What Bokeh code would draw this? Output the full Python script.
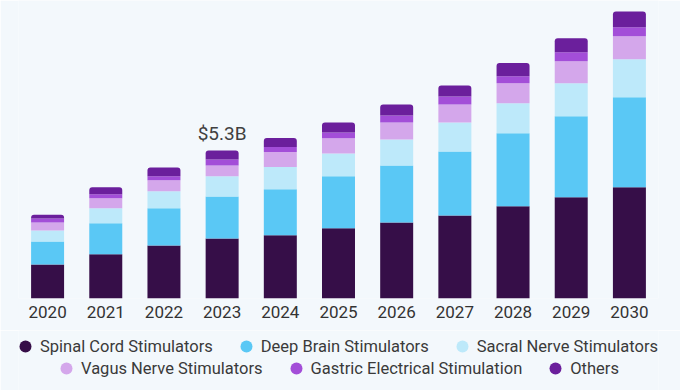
from bokeh.plotting import figure
from bokeh.layouts import column
from bokeh.models import FactorRange, Range1d, Legend, LegendItem, ColumnDataSource
from bokeh.core.properties import value
from bokeh.embed import file_html
from bokeh.resources import INLINE

# ---- data (USD billion) ----
years = ["2020", "2021", "2022", "2023", "2024", "2025", "2026", "2027", "2028", "2029", "2030"]
spinal_cord = [1.22, 1.58, 1.90, 2.15, 2.26, 2.51, 2.72, 2.97, 3.30, 3.62, 3.98]
deep_brain = [0.82, 1.11, 1.33, 1.50, 1.65, 1.86, 2.04, 2.29, 2.61, 2.90, 3.22]
sacral_nerve = [0.39, 0.54, 0.61, 0.72, 0.79, 0.82, 0.93, 1.04, 1.07, 1.18, 1.36]
vagus_nerve = [0.29, 0.36, 0.39, 0.39, 0.54, 0.54, 0.61, 0.64, 0.72, 0.79, 0.82]
gastric_electrical = [0.14, 0.14, 0.14, 0.21, 0.18, 0.21, 0.25, 0.29, 0.25, 0.32, 0.32]
others = [0.14, 0.25, 0.32, 0.32, 0.32, 0.36, 0.39, 0.39, 0.47, 0.50, 0.57]

segment_names = ["Spinal Cord Stimulators", "Deep Brain Stimulators", "Sacral Nerve Stimulators",
                 "Vagus Nerve Stimulators", "Gastric Electrical Stimulation", "Others"]
segment_keys = ["spinal", "deep", "sacral", "vagus", "gastric", "others"]
segment_colors = ["#360E48", "#5AC8F5", "#BDE9FA", "#D4A7EB", "#A34ED8", "#6B1F9C"]

highlight_year = "2023"
highlight_label = "$5.3B"

BG = "#F3F8FC"
FONT = "Roboto"

series = [spinal_cord, deep_brain, sacral_nerve, vagus_nerve, gastric_electrical, others]
src = ColumnDataSource(dict(year=years, **{k: v for k, v in zip(segment_keys, series)}))

p = figure(
    x_range=FactorRange(factors=years, range_padding=0),
    y_range=Range1d(0, 10.66),
    width=680, height=330,
    output_backend="svg", toolbar_location=None,
    min_border_left=18, min_border_right=22, min_border_top=0, min_border_bottom=32,
    background_fill_color=BG, border_fill_color=BG,
)
p.outline_line_color = None
p.xgrid.grid_line_color = None
p.ygrid.grid_line_color = None
p.yaxis.visible = False

bars = p.vbar_stack(segment_keys, x="year", width=0.567, source=src,
                    fill_color=segment_colors, line_color=None)
bars[-1].glyph.border_radius = (3, 3, 0, 0)

# highlight label above the 2023 bar
idx = years.index(highlight_year)
total = sum(s[idx] for s in series)
p.text(x=[highlight_year], y=[total], text=[highlight_label],
       text_align="center", text_baseline="alphabetic", y_offset=-17,
       text_font=value(FONT), text_font_size="19px", text_color="#404040")

ax = p.xaxis[0]
ax.axis_line_color = None
ax.major_tick_line_color = None
ax.minor_tick_line_color = None
ax.major_label_standoff = 1
ax.major_label_text_font = FONT
ax.major_label_text_font_size = "17px"
ax.major_label_text_color = "#333333"

# ---- legend strip ----
lf = figure(width=680, height=60, x_range=Range1d(0, 1), y_range=Range1d(0, 1),
            output_backend="svg", toolbar_location=None,
            min_border_left=0, min_border_right=0, min_border_top=0, min_border_bottom=0,
            background_fill_color=BG, border_fill_color=BG)
lf.outline_line_color = None
lf.axis.visible = False
lf.grid.grid_line_color = None

# legend swatches: one hidden point each (outside the strip's visible range)
dots = [lf.scatter(x=[-5], y=[-5], marker="circle", size=12, fill_color=c, line_color=None)
        for c in segment_colors]

def make_legend(indices, loc):
    return Legend(
        items=[LegendItem(label=segment_names[i], renderers=[dots[i]]) for i in indices],
        location=loc, orientation="horizontal",
        glyph_width=30, glyph_height=30, label_standoff=0, spacing=18,
        padding=0, margin=0, border_line_color=None, background_fill_alpha=0,
        label_text_font=FONT, label_text_font_size="16.5px", label_text_color="#3a3a3a",
    )

lf.add_layout(make_legend([0, 1, 2], (-8, 29)))
lf.add_layout(make_legend([3, 4, 5], (33, 7)))

layout = column(p, lf, spacing=0)
open("out.html", "w").write(file_html(layout, INLINE))
